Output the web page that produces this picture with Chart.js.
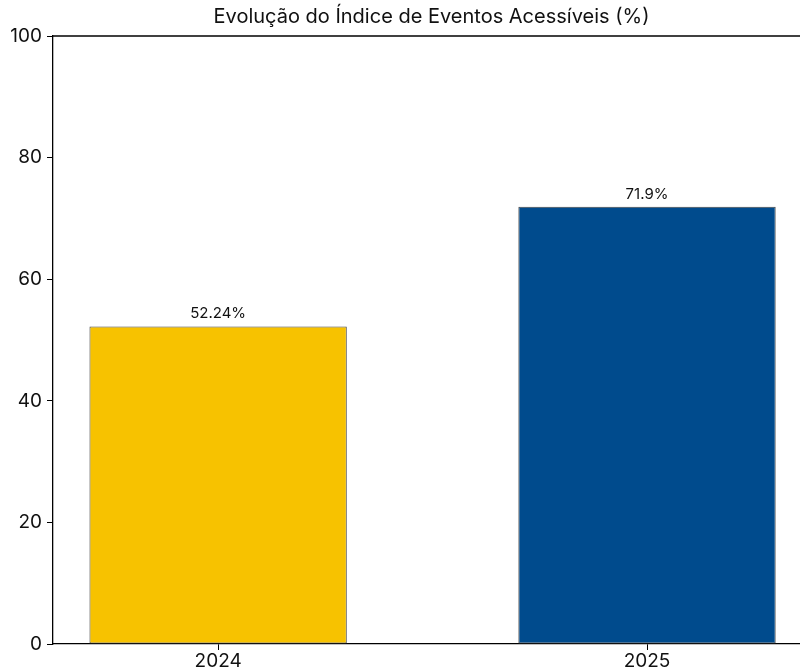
<!DOCTYPE html>
<html lang="pt">
<head>
    <meta charset="UTF-8">
    <title>Índice de Eventos Acessíveis</title>
    <script src="https://cdn.jsdelivr.net/npm/chart.js"></script>
    <style>
        body {
            margin: 0;
            overflow: hidden;
            background: #fff;
        }
        #wrap {
            width: 800px;
            height: 672px;
            overflow: hidden;
        }
    </style>
</head>
<body>
    <div id="wrap">
        <canvas id="chart" width="830" height="672"></canvas>
    </div>

    <script>
        const years = ['2024', '2025'];
        const indexValues = [52.24, 71.9];
        const barColors = ['#F7C200', '#004B8D'];
        const chartTitle = 'Evolução do Índice de Eventos Acessíveis (%)';

        const FONT = 'Inter, "Noto Sans", sans-serif';

        // top spine + title + value labels
        const extras = {
            id: 'extras',
            afterDraw(chart) {
                const ctx = chart.ctx;
                const area = chart.chartArea;
                ctx.save();
                ctx.strokeStyle = '#000';
                ctx.lineWidth = 1.3;
                ctx.beginPath();
                ctx.moveTo(area.left, area.top);
                ctx.lineTo(area.right, area.top);
                ctx.stroke();

                ctx.fillStyle = '#111';
                ctx.font = '20px ' + FONT;
                ctx.textAlign = 'center';
                ctx.textBaseline = 'middle';
                ctx.fillText(chartTitle, (area.left + area.right) / 2, 17);

                ctx.font = '15px ' + FONT;
                ctx.textBaseline = 'bottom';
                const meta = chart.getDatasetMeta(0);
                meta.data.forEach((bar, i) => {
                    ctx.fillText(indexValues[i] + '%', bar.x, bar.y - 5);
                });
                ctx.restore();
            }
        };

        new Chart(document.getElementById('chart'), {
            type: 'bar',
            data: {
                datasets: [{
                    data: indexValues.map((v, i) => ({ x: i, y: v })),
                    backgroundColor: barColors,
                    borderColor: '#444',
                    borderWidth: 1,
                    borderSkipped: false,
                    categoryPercentage: 0.6,
                    barPercentage: 1.0
                }]
            },
            options: {
                responsive: false,
                animation: false,
                layout: { padding: { top: 36, right: 20, left: 0, bottom: 0 } },
                plugins: {
                    legend: { display: false },
                    tooltip: { enabled: false }
                },
                scales: {
                    x: {
                        type: 'linear',
                        offset: false,
                        min: -0.385,
                        max: 1.38,
                        afterBuildTicks(scale) {
                            scale.ticks = years.map((_, i) => ({ value: i }));
                        },
                        afterFit(scale) { scale.height = 28; },
                        grid: {
                            offset: false,
                            drawOnChartArea: false,
                            drawTicks: true,
                            tickLength: 6,
                            color: '#000'
                        },
                        border: { color: '#000', width: 1.3 },
                        ticks: {
                            color: '#111',
                            font: { family: FONT, size: 19 },
                            padding: 0,
                            maxRotation: 0,
                            callback: (v) => years[v]
                        }
                    },
                    y: {
                        min: 0,
                        max: 100,
                        afterFit(scale) { scale.width = 53; },
                        grid: {
                            drawOnChartArea: false,
                            drawTicks: true,
                            tickLength: 6,
                            color: '#000'
                        },
                        border: { color: '#000', width: 1.3 },
                        ticks: {
                            stepSize: 20,
                            color: '#111',
                            font: { family: FONT, size: 19 },
                            padding: 5
                        }
                    }
                }
            },
            plugins: [extras]
        });
    </script>
</body>
</html>
